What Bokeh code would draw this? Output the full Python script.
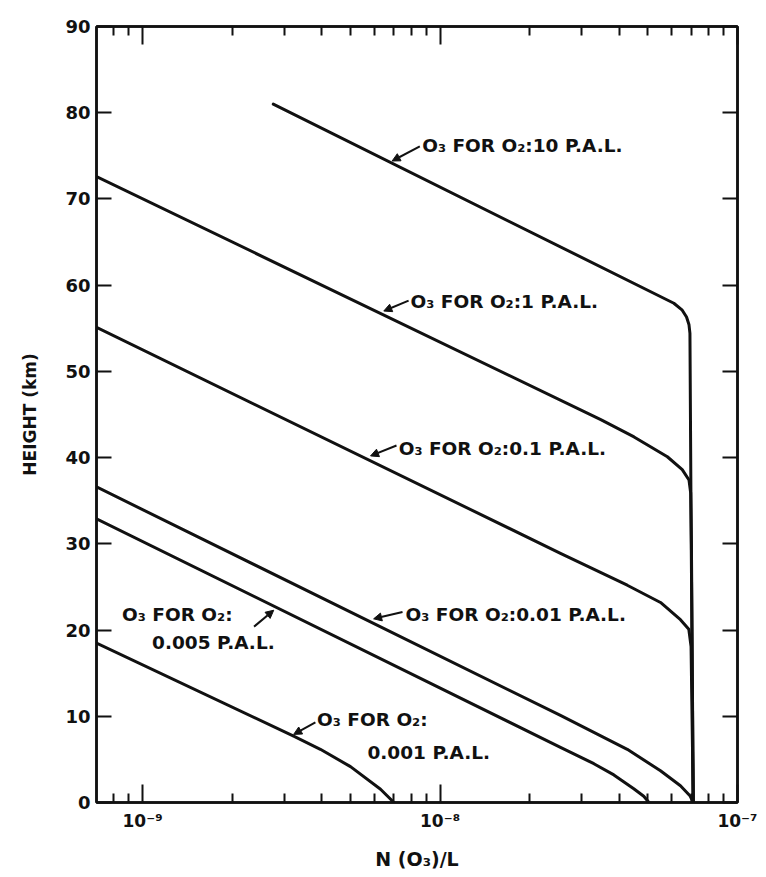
from bokeh.plotting import figure
from bokeh.models import (Range1d, LogAxis, LinearAxis, FixedTicker, CustomJSTickFormatter,
                          Arrow, NormalHead)
from bokeh.core.properties import value
from bokeh.embed import file_html
from bokeh.resources import INLINE

# ---------------- data ----------------
# N(O3)/L values and heights (km) for each O2 level
pal10_n = [2.75e-9, 6.11e-8, 6.52e-8, 6.74e-8, 6.87e-8, 6.92e-8, 6.99e-8, 7.1e-8]
pal10_h = [81.0, 57.9, 57.1, 56.3, 55.4, 54.4, 30.0, 0.0]

pal1_n = [7.0e-10, 3.47e-8, 4.49e-8, 5.81e-8, 6.52e-8, 6.87e-8, 6.96e-8, 7.0e-8, 7.1e-8]
pal1_h = [72.6, 44.4, 42.4, 40.1, 38.6, 37.4, 35.9, 30.0, 0.0]

pal01_n = [7.0e-10, 2.54e-8, 4.26e-8, 5.51e-8, 6.43e-8, 6.86e-8, 6.98e-8, 7.1e-8]
pal01_h = [55.1, 28.9, 25.2, 23.2, 21.2, 20.1, 18.1, 0.0]

pal001_n = [7.0e-10, 2.54e-8, 4.26e-8, 5.51e-8, 6.43e-8, 6.92e-8, 7.1e-8]
pal001_h = [36.6, 10.1, 6.17, 3.68, 1.95, 0.79, 0.0]

pal0005_n = [7.0e-10, 2.54e-8, 3.29e-8, 3.84e-8, 4.48e-8, 4.84e-8, 5.04e-8]
pal0005_h = [32.9, 6.4, 4.5, 3.2, 1.6, 0.73, 0.0]

pal0001_n = [7.0e-10, 3.22e-9, 3.96e-9, 5.0e-9, 6.31e-9, 7.0e-9]
pal0001_h = [18.5, 7.7, 6.17, 4.16, 1.54, 0.0]

height_ticks = [0, 10, 20, 30, 40, 50, 60, 70, 80, 90]
n_major_ticks = [1e-9, 1e-8, 1e-7]
n_minor_ticks = [8e-10, 9e-10,
                 2e-9, 3e-9, 4e-9, 5e-9, 6e-9, 7e-9, 8e-9, 9e-9,
                 2e-8, 3e-8, 4e-8, 5e-8, 6e-8, 7e-8, 8e-8, 9e-8]

# curve labels: text, anchor (x, y)
label_text = ["O\u2083 FOR O\u2082:10 P.A.L.",
              "O\u2083 FOR O\u2082:1 P.A.L.",
              "O\u2083 FOR O\u2082:0.1 P.A.L.",
              "O\u2083 FOR O\u2082:0.01 P.A.L.",
              "O\u2083 FOR O\u2082:",
              "0.005 P.A.L.",
              "O\u2083 FOR O\u2082:",
              "0.001 P.A.L."]
label_x = [8.71e-9, 7.96e-9, 7.26e-9, 7.66e-9, 8.53e-10, 1.076e-9, 3.86e-9, 5.70e-9]
label_y = [76.2, 58.1, 41.1, 21.8, 21.8, 18.5, 9.65, 5.8]

# leader arrows: start (x, y) -> tip (x, y)
arrow_x0 = [8.55e-9, 7.84e-9, 7.14e-9, 7.48e-9, 2.37e-9, 3.81e-9]
arrow_y0 = [76.1, 58.2, 41.4, 22.1, 20.4, 9.3]
arrow_x1 = [6.90e-9, 6.47e-9, 5.84e-9, 5.98e-9, 2.76e-9, 3.22e-9]
arrow_y1 = [74.4, 57.0, 40.2, 21.3, 22.3, 7.9]

# ---------------- figure ----------------
INK = "#111111"
FONT = "DejaVu Sans"

p = figure(width=758, height=872, x_axis_type="log",
           x_range=Range1d(7e-10, 1e-7), y_range=Range1d(0, 90),
           output_backend="svg", toolbar_location=None,
           min_border_left=96, min_border_right=21, min_border_top=26, min_border_bottom=69,
           background_fill_color="white", border_fill_color="white")
p.grid.visible = False
p.outline_line_color = INK
p.outline_line_width = 2.5

xt = FixedTicker(ticks=n_major_ticks, minor_ticks=n_minor_ticks)
yt = FixedTicker(ticks=height_ticks, minor_ticks=[])

sup_code = """
const sup = {"-": "\\u207b", "0": "\\u2070", "1": "\\u00b9", "2": "\\u00b2", "3": "\\u00b3",
             "4": "\\u2074", "5": "\\u2075", "6": "\\u2076", "7": "\\u2077", "8": "\\u2078", "9": "\\u2079"};
const e = Math.round(Math.log10(tick));
return "10" + String(e).split("").map(c => sup[c]).join("");
"""

def style_axis(ax, tin, minin):
    ax.axis_line_color = INK
    ax.axis_line_width = 2.5
    ax.major_tick_line_color = INK
    ax.major_tick_line_width = 2
    ax.minor_tick_line_color = INK
    ax.minor_tick_line_width = 2
    ax.major_tick_in = tin
    ax.major_tick_out = 0
    ax.minor_tick_in = minin
    ax.minor_tick_out = 0
    ax.major_label_text_font = FONT
    ax.major_label_text_font_style = "bold"
    ax.major_label_text_color = INK
    ax.axis_label_text_font = FONT
    ax.axis_label_text_font_style = "bold"
    ax.axis_label_text_color = INK

# bottom axis
xa = p.xaxis[0]
xa.ticker = xt
xa.formatter = CustomJSTickFormatter(code=sup_code)
style_axis(xa, 18, 9)
xa.major_label_text_font_size = "17px"
xa.major_label_standoff = 8
xa.axis_label = "N (O\u2083)/L"
xa.axis_label_text_font_size = "19px"
xa.axis_label_standoff = 14

# left axis
ya = p.yaxis[0]
ya.ticker = yt
style_axis(ya, 15, 0)
ya.major_label_text_font_size = "18px"
ya.major_label_standoff = 6
ya.axis_label = "HEIGHT (km)"
ya.axis_label_text_font_size = "17px"
ya.axis_label_standoff = 22

# top and right axes (mirrored ticks, no labels)
ta = LogAxis(ticker=xt, formatter=CustomJSTickFormatter(code="return '';"))
style_axis(ta, 18, 9)
ta.major_label_text_font_size = "1px"
ta.major_label_standoff = 0
p.add_layout(ta, "above")

ra = LinearAxis(ticker=yt, formatter=CustomJSTickFormatter(code="return '';"))
style_axis(ra, 15, 0)
ra.major_label_text_font_size = "1px"
ra.major_label_standoff = 0
p.add_layout(ra, "right")

# curves
for xs, ys in [(pal10_n, pal10_h), (pal1_n, pal1_h), (pal01_n, pal01_h),
               (pal001_n, pal001_h), (pal0005_n, pal0005_h), (pal0001_n, pal0001_h)]:
    p.line(xs, ys, line_color=INK, line_width=3, line_join="round", line_cap="round")

# labels
p.text(x=label_x, y=label_y, text=label_text, text_font=value(FONT), text_font_style="bold",
       text_font_size="18.5px", text_color=INK, text_align="left", text_baseline="middle")

# leader arrows
for x0, y0, x1, y1 in zip(arrow_x0, arrow_y0, arrow_x1, arrow_y1):
    p.add_layout(Arrow(x_start=x0, y_start=y0, x_end=x1, y_end=y1,
                       line_color=INK, line_width=2,
                       end=NormalHead(size=8, fill_color=INK, line_color=INK, line_width=1)))

open("out.html", "w").write(file_html(p, INLINE))
